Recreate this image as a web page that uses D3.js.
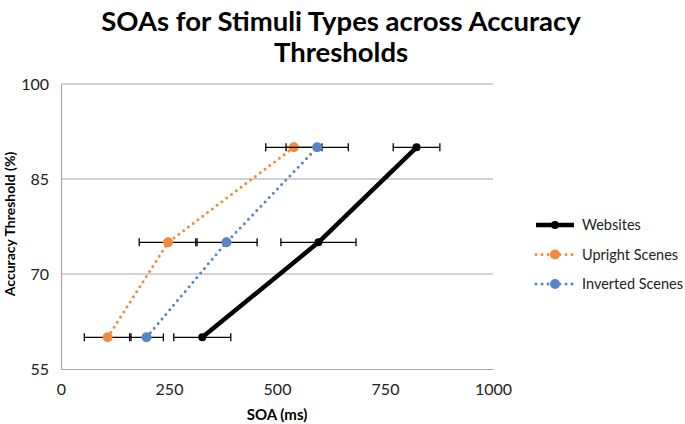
<!DOCTYPE html>
<html>
<head>
<meta charset="utf-8">
<script src="https://cdn.jsdelivr.net/npm/d3@7"></script>
<style>
  body { margin: 0; background: #fff; }
  text { font-family: Lato, "Open Sans", sans-serif; }
</style>
</head>
<body>
<svg id="chart" width="685" height="424"></svg>
<script>
// thresholds and SOA values
var thresholds = [60, 75, 90];
var websites = [327, 596, 823];
var websitesErr = [66, 87, 54];
var upright = [108, 248, 539];
var uprightErr = [54, 67, 65];
var inverted = [198, 383, 593];
var invertedErr = [39, 71, 72];

var xTicks = [0, 250, 500, 750, 1000];
var yTicks = [55, 70, 85, 100];

var series = [
    { name: "Websites", values: websites, err: websitesErr, color: "#000000", width: 4.5, dash: null, r: 4 },
    { name: "Upright Scenes", values: upright, err: uprightErr, color: "#F08A3C", width: 3, dash: "0 6", r: 5 },
    { name: "Inverted Scenes", values: inverted, err: invertedErr, color: "#5585C8", width: 3, dash: "0 6", r: 5 }
];

var svg = d3.select("#chart");

var x = d3.scaleLinear().domain([0, 1000]).range([61, 493]);
var y = d3.scaleLinear().domain([55, 100]).range([369, 84]);

// title
svg.append("text")
    .attr("x", 341).attr("y", 31)
    .attr("text-anchor", "middle")
    .style("font-size", "27.5px").style("font-weight", "bold")
    .text("SOAs for Stimuli Types across Accuracy");
svg.append("text")
    .attr("x", 341).attr("y", 62)
    .attr("text-anchor", "middle")
    .style("font-size", "27.5px").style("font-weight", "bold")
    .text("Thresholds");

// gridlines
var grid = svg.append("g");
grid.selectAll("line")
    .data(yTicks.slice(1))
    .enter().append("line")
    .attr("x1", x(0)).attr("x2", x(1000))
    .attr("y1", function(d) { return y(d); })
    .attr("y2", function(d) { return y(d); })
    .attr("stroke", "#a6a6a6").attr("stroke-width", 1);

// axes
var xAxis = svg.append("g")
    .attr("transform", "translate(0," + y(55) + ")")
    .call(d3.axisBottom(x).tickValues(xTicks).tickFormat(d3.format("d")).tickSize(0).tickPadding(15));
var yAxis = svg.append("g")
    .attr("transform", "translate(" + x(0) + ",0)")
    .call(d3.axisLeft(y).tickValues(yTicks).tickSize(0).tickPadding(12));

[xAxis, yAxis].forEach(function(a) {
    a.select(".domain").attr("stroke", "#a6a6a6").attr("stroke-width", 1.2);
    a.selectAll("text")
        .style("font-family", "Lato, 'Open Sans', sans-serif")
        .style("font-size", "16px").attr("fill", "#222");
});

svg.append("text")
    .attr("x", 277).attr("y", 420)
    .attr("text-anchor", "middle")
    .style("font-size", "15px").style("font-weight", "bold")
    .text("SOA (ms)");

svg.append("text")
    .attr("transform", "translate(15,224) rotate(-90)")
    .attr("text-anchor", "middle")
    .style("font-size", "14px").style("font-weight", "bold")
    .text("Accuracy Threshold (%)");

var line = d3.line()
    .x(function(d) { return x(d[0]); })
    .y(function(d) { return y(d[1]); });

series.forEach(function(s) {
    var pts = thresholds.map(function(t, i) { return [s.values[i], t, s.err[i]]; });
    var g = svg.append("g");

    var path = g.append("path")
        .attr("d", line(pts))
        .attr("fill", "none")
        .attr("stroke", s.color)
        .attr("stroke-width", s.width)
        .attr("stroke-linecap", "round");
    if (s.dash) path.attr("stroke-dasharray", s.dash);

    // error bars
    var eb = g.selectAll(".eb").data(pts).enter().append("g");
    eb.append("line")
        .attr("x1", function(d) { return x(d[0] - d[2]); })
        .attr("x2", function(d) { return x(d[0] + d[2]); })
        .attr("y1", function(d) { return y(d[1]); })
        .attr("y2", function(d) { return y(d[1]); })
        .attr("stroke", "#000").attr("stroke-width", 1.3);
    [-1, 1].forEach(function(sign) {
        eb.append("line")
            .attr("x1", function(d) { return x(d[0] + sign * d[2]); })
            .attr("x2", function(d) { return x(d[0] + sign * d[2]); })
            .attr("y1", function(d) { return y(d[1]) - 4; })
            .attr("y2", function(d) { return y(d[1]) + 4; })
            .attr("stroke", "#000").attr("stroke-width", 1.3);
    });

    g.selectAll("circle").data(pts).enter().append("circle")
        .attr("cx", function(d) { return x(d[0]); })
        .attr("cy", function(d) { return y(d[1]); })
        .attr("r", s.r)
        .attr("fill", s.color);
});

// legend
var legend = svg.append("g");
var ly = d3.scalePoint().domain(series.map(function(s) { return s.name; })).range([225, 284]);
series.forEach(function(s) {
    var yy = ly(s.name);
    var l = legend.append("line")
        .attr("x1", 536).attr("x2", 574)
        .attr("y1", yy).attr("y2", yy)
        .attr("stroke", s.color)
        .attr("stroke-width", s.width)
        .attr("stroke-linecap", s.dash ? "round" : "butt");
    if (s.dash) l.attr("stroke-dasharray", s.dash);
    legend.append("circle")
        .attr("cx", 555).attr("cy", yy).attr("r", s.r)
        .attr("fill", s.color);
    legend.append("text")
        .attr("x", 582).attr("y", yy + 5)
        .style("font-size", "14.5px").attr("fill", "#222")
        .text(s.name);
});
</script>
</body>
</html>
